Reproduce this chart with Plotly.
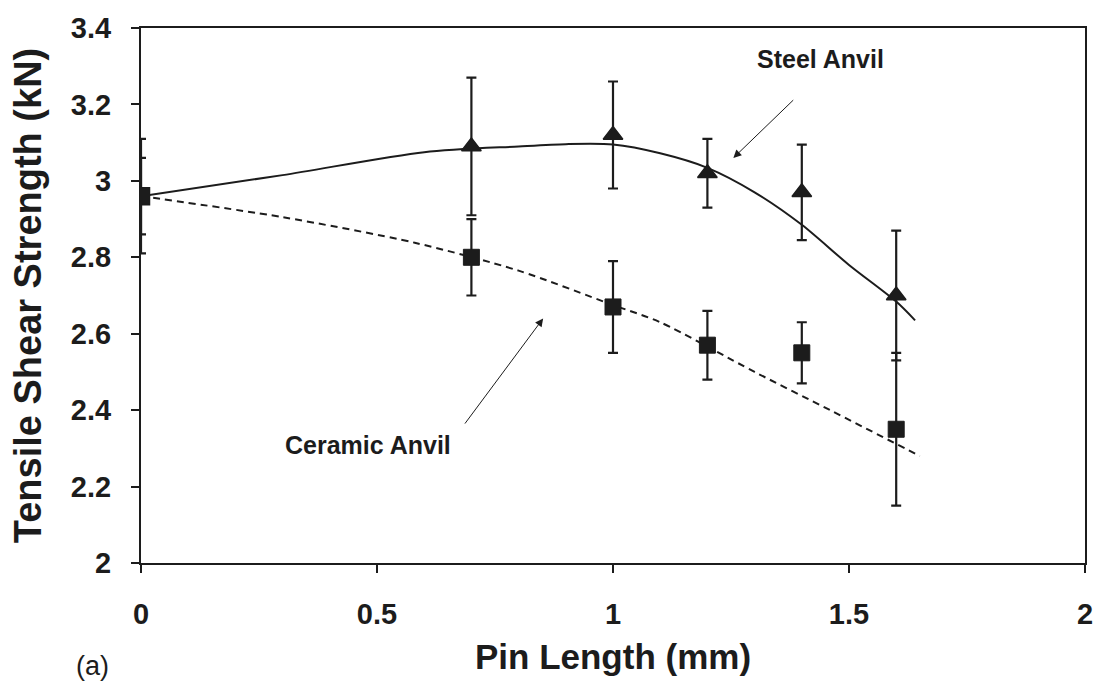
import plotly.graph_objects as go

# Pin length (mm) and measured tensile shear strength (kN)
pin_length = [0, 0.7, 1.0, 1.2, 1.4, 1.6]
steel_strength = [2.96, 3.09, 3.12, 3.02, 2.97, 2.70]
steel_err = [0.15, 0.18, 0.14, 0.09, 0.125, 0.17]
ceramic_strength = [2.96, 2.80, 2.67, 2.57, 2.55, 2.35]
ceramic_err = [0.10, 0.10, 0.12, 0.09, 0.08, 0.20]

# Smoothed trend curves
steel_trend_x = [0, 0.3, 0.6, 0.8, 0.9, 1.0, 1.1, 1.2, 1.3, 1.4, 1.5, 1.6, 1.64]
steel_trend_y = [2.96, 3.015, 3.075, 3.09, 3.096, 3.095, 3.072, 3.034, 2.97, 2.885, 2.78, 2.684, 2.635]
ceramic_trend_x = [0, 0.3, 0.58, 0.8, 1.0, 1.1, 1.3, 1.46, 1.65]
ceramic_trend_y = [2.96, 2.905, 2.838, 2.765, 2.675, 2.63, 2.50, 2.40, 2.28]

INK = "#1c1c1c"
FONT = "Liberation Sans"

fig = go.Figure()

fig.add_trace(go.Scatter(
    x=steel_trend_x, y=steel_trend_y, mode="lines",
    line=dict(color=INK, width=2, shape="spline", smoothing=0.8),
    showlegend=False, hoverinfo="skip"))
fig.add_trace(go.Scatter(
    x=ceramic_trend_x, y=ceramic_trend_y, mode="lines",
    line=dict(color=INK, width=2, dash="7px,5px", shape="spline", smoothing=0.8),
    showlegend=False, hoverinfo="skip"))

# steel marker at the shared origin point sits under the ceramic square
steel_symbols = ["square" if x == 0 else "triangle-up" for x in pin_length]

fig.add_trace(go.Scatter(
    x=pin_length, y=steel_strength, mode="markers", name="Steel Anvil",
    marker=dict(symbol=steel_symbols, size=17, color=INK, opacity=1,
                line=dict(color=INK, width=1.5)),
    error_y=dict(type="data", array=steel_err, color=INK, thickness=2.2, width=5),
    showlegend=False))
fig.add_trace(go.Scatter(
    x=pin_length, y=ceramic_strength, mode="markers", name="Ceramic Anvil",
    marker=dict(symbol="square", size=16, color=INK, opacity=1,
                line=dict(color=INK, width=1)),
    error_y=dict(type="data", array=ceramic_err, color=INK, thickness=2.2, width=5),
    showlegend=False))

# labels with pointer arrows
fig.add_annotation(x=1.255, y=3.06, ax=1.385, ay=3.215, xref="x", yref="y",
                   axref="x", ayref="y", text="", showarrow=True,
                   arrowhead=2, arrowsize=1.6, arrowwidth=1, arrowcolor=INK)
fig.add_annotation(x=0.852, y=2.64, ax=0.684, ay=2.361, xref="x", yref="y",
                   axref="x", ayref="y", text="", showarrow=True,
                   arrowhead=2, arrowsize=1.6, arrowwidth=1, arrowcolor=INK)
fig.add_annotation(x=1.44, y=3.32, xref="x", yref="y", text="Steel Anvil",
                   showarrow=False, font=dict(family=FONT, size=25, color=INK, weight="bold"))
fig.add_annotation(x=0.48, y=2.31, xref="x", yref="y", text="Ceramic Anvil",
                   showarrow=False, font=dict(family=FONT, size=25, color=INK, weight="bold"))

L, R, T, B = 141, 13, 20, 122
W, H = 1105, 685
fig.add_annotation(x=(92 - L) / (W - L - R), y=-(668 - (H - B)) / (H - B - T),
                   xref="paper", yref="paper", text="(a)", showarrow=False,
                   xanchor="center", yanchor="middle",
                   font=dict(family=FONT, size=27, color=INK))

fig.update_layout(
    width=W, height=H,
    margin=dict(l=L, r=R, t=T, b=B),
    paper_bgcolor="white", plot_bgcolor="white",
    font=dict(family=FONT, color=INK),
)

fig.update_xaxes(
    range=[0, 2], dtick=0.5, tick0=0,
    showgrid=False, zeroline=False,
    showline=True, linecolor=INK, linewidth=2, mirror=True,
    ticks="outside", ticklen=8, tickwidth=1.5, tickcolor=INK,
    ticklabelstandoff=16,
    tickfont=dict(family=FONT, size=29, color=INK, weight="bold"),
    title=dict(text="Pin Length (mm)", standoff=16,
               font=dict(family=FONT, size=35, color=INK, weight="bold")),
)
fig.update_yaxes(
    range=[2, 3.4], dtick=0.2, tick0=2,
    showgrid=False, zeroline=False,
    showline=True, linecolor=INK, linewidth=2, mirror=True,
    ticks="outside", ticklen=8, tickwidth=1.5, tickcolor=INK,
    ticklabelstandoff=14,
    tickfont=dict(family=FONT, size=29, color=INK, weight="bold"),
    title=dict(text="Tensile Shear Strength (kN)", standoff=18,
               font=dict(family=FONT, size=38, color=INK, weight="bold")),
)

fig.write_html("out.html")
